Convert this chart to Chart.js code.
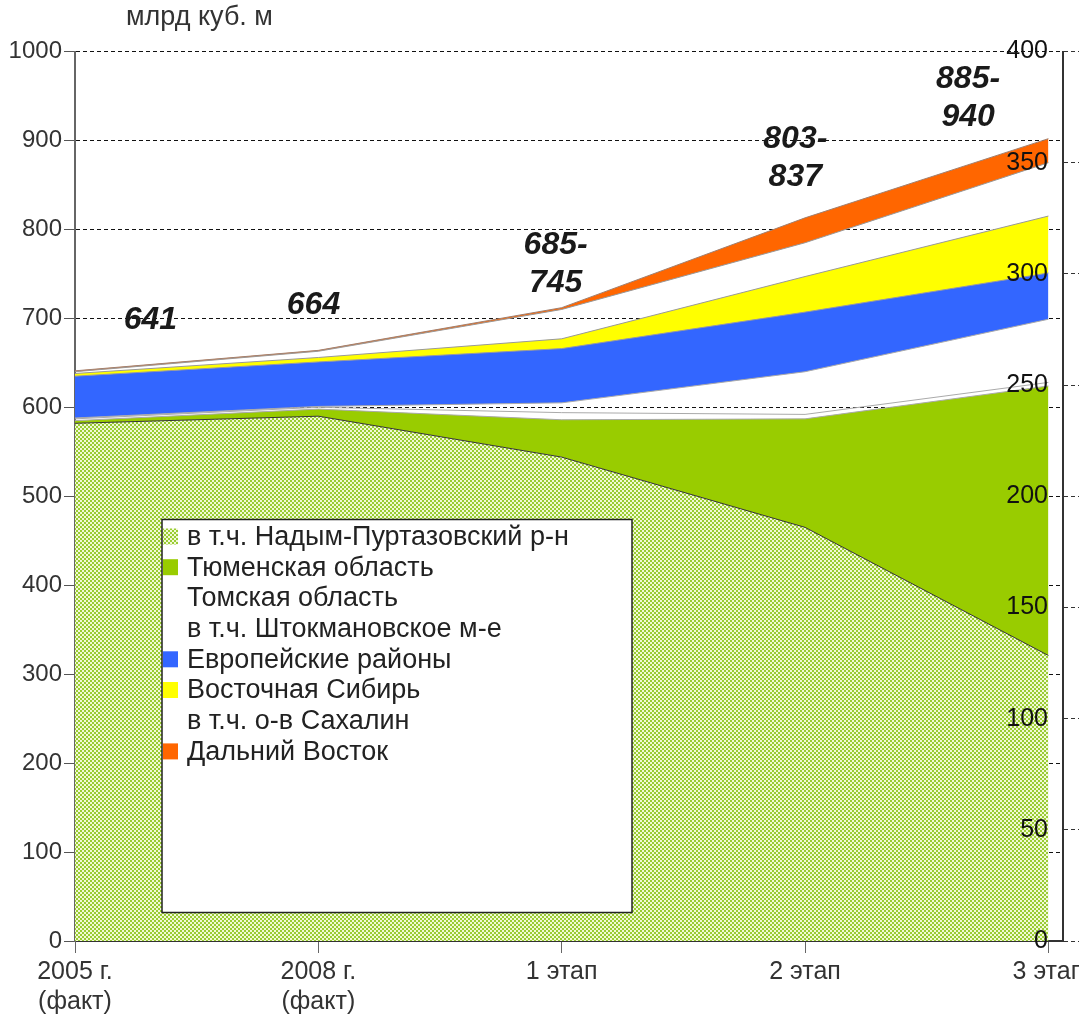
<!DOCTYPE html>
<html>
<head>
<meta charset="utf-8">
<script src="https://cdn.jsdelivr.net/npm/chart.js@4"></script>
<style>
  html, body { margin: 0; padding: 0; background: #fff; overflow: hidden; }
  #wrap { width: 1079px; height: 1018px; position: relative; }
</style>
</head>
<body>
<div id="wrap"><canvas id="chart"></canvas></div>
<script>
// categories on the x axis
const CATEGORIES = [['2005 г.', '(факт)'], ['2008 г.', '(факт)'], '1 этап', '2 этап', '3 этап'];

// layer thickness, млрд куб. м, stacked from the bottom up
const NADYM = [582, 590, 544, 465, 321];
const TYUMEN = [3, 8, 42, 122, 303];
const TOMSK = [2, 2, 8, 5, 4];
const SHTOKMAN = [1, 1, 11, 48, 71];
const EUROPE = [47, 50, 61, 67, 52];
const EAST_SIBERIA = [3, 5, 11, 40, 64];
const SAKHALIN = [2, 7, 33, 38, 60];
const FAR_EAST = [1, 1, 2, 28, 27];

// totals written over the stack
const TOTAL_LABELS = [['641'], ['664'], ['685-', '745'], ['803-', '837'], ['885-', '940']];

const LEFT_TICKS = [0, 100, 200, 300, 400, 500, 600, 700, 800, 900, 1000];
const RIGHT_TICKS = [0, 50, 100, 150, 200, 250, 300, 350, 400];

const FONT = "'Liberation Sans', Arial, sans-serif";
const NONE = 'rgba(0,0,0,0)';

// where the total labels sit (x in category units, y in axis units)
const TOTAL_ANCHORS = [[0.31, 698], [0.98, 715], [1.975, 761], [2.96, 880], [3.67, 947]];

function makeHatch() {
  const c = document.createElement('canvas');
  c.width = 4;
  c.height = 4;
  const g = c.getContext('2d');
  g.fillStyle = '#99cc33';
  g.fillRect(0, 0, 4, 4);
  g.fillStyle = '#f2f9d6';
  g.fillRect(0, 0, 2, 2);
  g.fillRect(2, 2, 2, 2);
  return g.createPattern(c, 'repeat');
}

const hatch = makeHatch();

function series(label, values, bg, border, fill) {
  return {
    label: label,
    data: values.map((v, i) => ({ x: i, y: v })),
    backgroundColor: bg,
    borderColor: border,
    borderWidth: 1,
    pointRadius: 0,
    tension: 0,
    fill: fill
  };
}

const datasets = [
  series('в т.ч. Надым-Пуртазовский р-н', NADYM, hatch, '#333', 'origin'),
  series('Тюменская область', TYUMEN, '#99cc00', '#aaa', '-1'),
  series('Томская область', TOMSK, NONE, '#aaa', '-1'),
  series('в т.ч. Штокмановское м-е', SHTOKMAN, NONE, '#aaa', '-1'),
  series('Европейские районы', EUROPE, '#3366ff', '#999', '-1'),
  series('Восточная Сибирь', EAST_SIBERIA, '#ffff00', '#999', '-1'),
  series('в т.ч. о-в Сахалин', SAKHALIN, NONE, '#999', '-1'),
  series('Дальний Восток', FAR_EAST, '#ff6600', '#a08070', '-1')
];

// title, totals and the boxed legend drawn on the canvas
const overlay = {
  id: 'overlay',
  afterDatasetsDraw(chart) {
    const ctx = chart.ctx;
    const area = chart.chartArea;
    const xs = chart.scales.x;
    const ys = chart.scales.y;

    ctx.save();
    ctx.fillStyle = '#333';
    ctx.font = '27px ' + FONT;
    ctx.textAlign = 'left';
    ctx.textBaseline = 'middle';
    ctx.fillText('млрд куб. м', area.left + 51, 18);

    ctx.fillStyle = '#1a1a1a';
    ctx.font = 'italic bold 32px ' + FONT;
    ctx.textAlign = 'center';
    TOTAL_LABELS.forEach((lines, i) => {
      const cx = xs.getPixelForValue(TOTAL_ANCHORS[i][0]);
      const cy = ys.getPixelForValue(TOTAL_ANCHORS[i][1]);
      const start = cy - (lines.length - 1) * 19;
      lines.forEach((t, j) => ctx.fillText(t, cx, start + j * 38));
    });

    const bx = area.left + 87, by = area.top + 468, bw = 470, bh = 393;
    ctx.fillStyle = '#fff';
    ctx.fillRect(bx, by, bw, bh);
    ctx.strokeStyle = '#222';
    ctx.lineWidth = 1.5;
    ctx.strokeRect(bx, by, bw, bh);

    ctx.font = '27px ' + FONT;
    ctx.textAlign = 'left';
    chart.data.datasets.forEach((ds, i) => {
      const rowY = by + 17 + i * 30.7;
      if (ds.backgroundColor !== NONE) {
        ctx.fillStyle = ds.backgroundColor;
        ctx.fillRect(bx + 1, rowY - 8, 15, 16);
      }
      ctx.fillStyle = '#222';
      ctx.fillText(ds.label, bx + 25, rowY + 1);
    });
    ctx.restore();
  }
};

new Chart(document.getElementById('chart'), {
  type: 'line',
  data: { datasets: datasets },
  options: {
    responsive: true,
    maintainAspectRatio: false,
    animation: false,
    layout: { padding: { left: 8, top: 51.5, right: 0, bottom: 0 } },
    plugins: {
      legend: { display: false },
      tooltip: { enabled: false }
    },
    scales: {
      x: {
        type: 'linear',
        min: 0,
        max: 4.06,
        afterBuildTicks: s => { s.ticks = CATEGORIES.map((c, i) => ({ value: i })); },
        afterFit: s => { s.paddingLeft = 0; s.paddingRight = 0; s.height = 77; },
        ticks: {
          callback: v => CATEGORIES[v],
          color: '#333',
          font: { family: FONT, size: 25 },
          padding: 4,
          maxRotation: 0,
          autoSkip: false
        },
        grid: { drawOnChartArea: false, tickLength: 12, color: '#666' },
        border: { color: '#333', width: 2 }
      },
      y: {
        stacked: true,
        min: 0,
        max: 1000,
        afterBuildTicks: s => { s.ticks = LEFT_TICKS.map(v => ({ value: v })); },
        afterFit: s => { s.width = 67; },
        ticks: { callback: v => String(v), color: '#333', font: { family: FONT, size: 24 }, padding: 2 },
        grid: { color: '#111', tickLength: 11, tickColor: '#555' },
        border: { color: '#666', width: 2, dash: [4, 3] }
      },
      y2: {
        position: 'right',
        min: 0,
        max: 400,
        afterBuildTicks: s => { s.ticks = RIGHT_TICKS.map(v => ({ value: v })); },
        afterFit: s => { s.width = 16; },
        ticks: { z: 1, mirror: true, callback: v => String(v), color: '#111', font: { family: FONT, size: 25 }, padding: -15 },
        grid: { z: 1, drawOnChartArea: false, tickLength: 16, color: '#333', tickBorderDash: [4, 3] },
        border: { z: 1, color: '#333', width: 2 }
      }
    }
  },
  plugins: [overlay]
});
</script>
</body>
</html>
